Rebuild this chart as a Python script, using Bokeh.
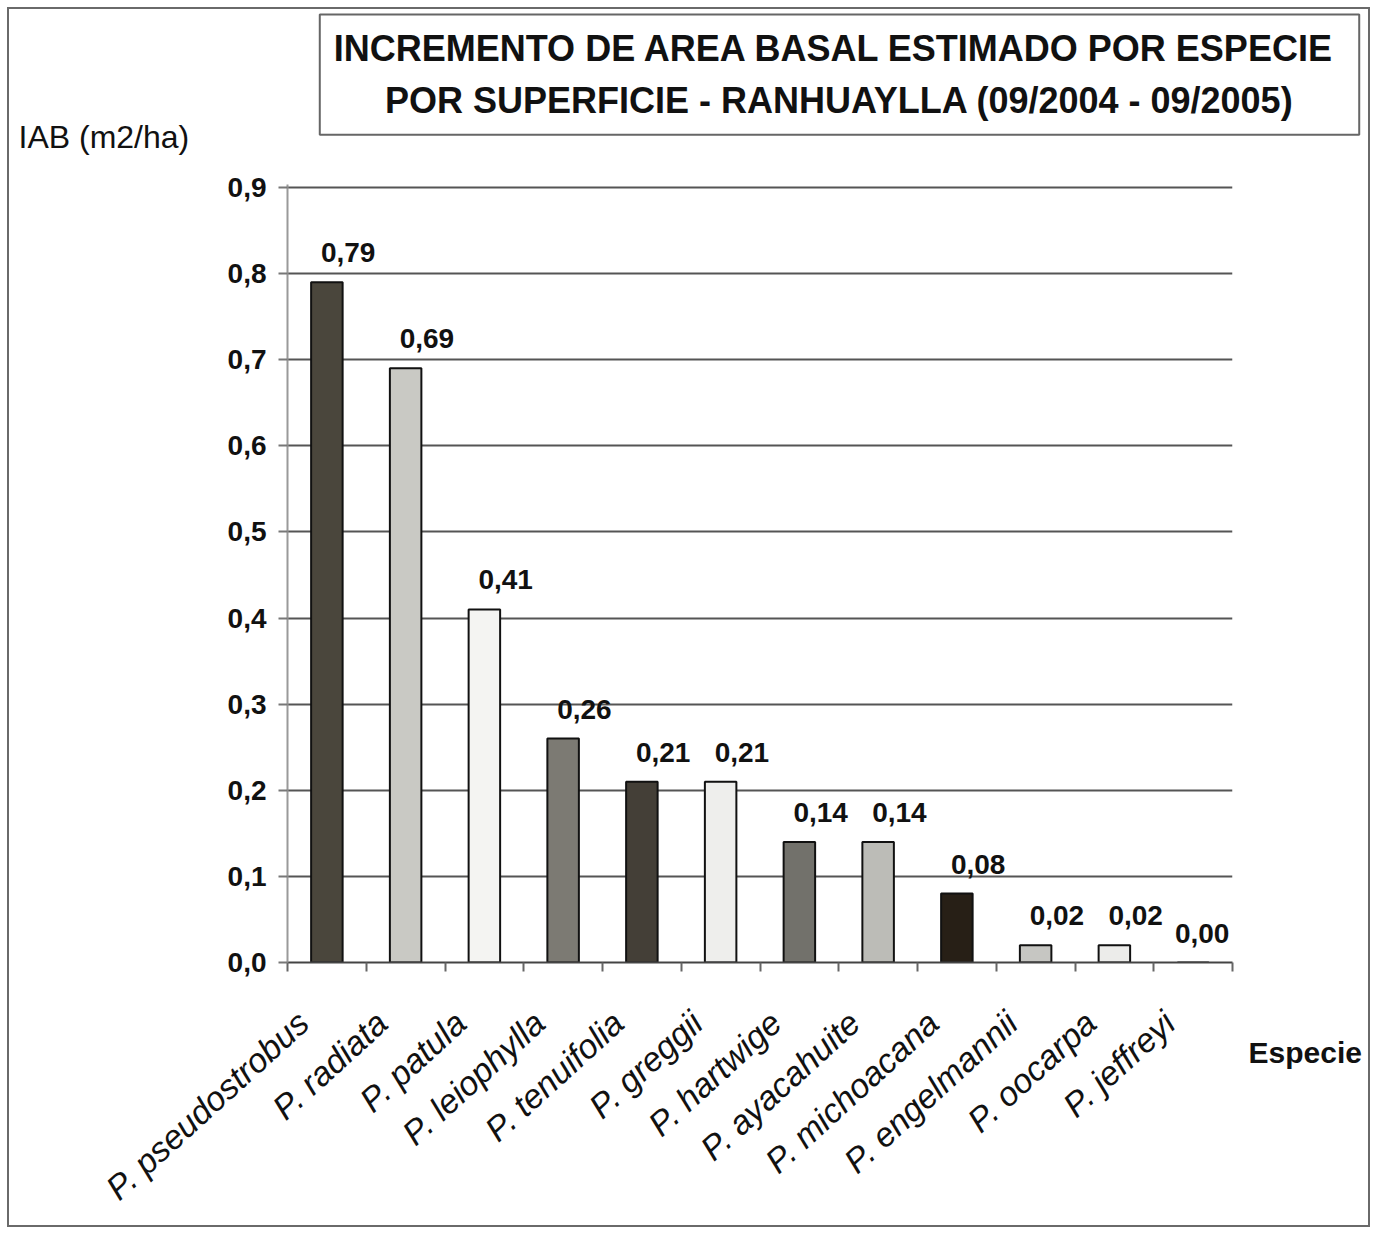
from bokeh.plotting import figure
from bokeh.models import (Range1d, FixedTicker, CustomJSTickFormatter, Label,
                          ColumnDataSource, LabelSet)
from bokeh.core.properties import value
from bokeh.embed import file_html
from bokeh.resources import INLINE

# Basal-area increment per species (m2/ha), Ranhuaylla 09/2004 - 09/2005
species = ["P. pseudostrobus", "P. radiata", "P. patula", "P. leiophylla",
           "P. tenuifolia", "P. greggii", "P. hartwige", "P. ayacahuite",
           "P. michoacana", "P. engelmannii", "P. oocarpa", "P. jeffreyi"]
iab = [0.79, 0.69, 0.41, 0.26, 0.21, 0.21, 0.14, 0.14, 0.08, 0.02, 0.02, 0.00]
fills = ["#4a463c", "#c9c9c4", "#f4f4f2", "#7c7a73", "#443f37", "#eeeeec",
         "#72716b", "#bcbcb7", "#271f16", "#c6c6c2", "#ececea", "#555555"]
y_ticks = [0, 0.1, 0.2, 0.3, 0.4, 0.5, 0.6, 0.7, 0.8, 0.9]

title_lines = ["INCREMENTO DE AREA BASAL ESTIMADO POR  ESPECIE",
               "POR SUPERFICIE - RANHUAYLLA (09/2004 - 09/2005)"]

FONT = "Liberation Sans"
W, H = 1377, 1234
LEFT, RIGHT, TOP, BOTTOM = 287, 145, 184, 272
n = len(species)
YMAX = 0.9035

p = figure(width=W, height=H, output_backend="svg", toolbar_location=None,
           x_range=Range1d(0, n), y_range=Range1d(0, YMAX),
           min_border_left=LEFT, min_border_right=RIGHT,
           min_border_top=TOP, min_border_bottom=BOTTOM)
p.outline_line_color = None
p.background_fill_color = "white"
p.border_fill_color = "white"
p.border_fill_alpha = 0
# thin frame around the whole chart
p.styles = {"outline": "2px solid #6a6a6a", "outline-offset": "-9px",
            "background-color": "white"}

# canvas pixel -> data helpers for text placed in the side panels
fw = W - LEFT - RIGHT
fh = H - TOP - BOTTOM
def px_x(px):
    return (px - LEFT) / fw * n
def px_y(py):
    return (H - BOTTOM - py) / fh * YMAX

centers = [i + 0.5 for i in range(n)]
labels = [f"{v:.2f}".replace(".", ",") for v in iab]

# value labels start just left of the bar centre; pull in any that would run
# past the right edge of the plot frame
VAL_SIZE = 28
val_width = 1.95 * VAL_SIZE
unit_px = fw / n
x_off = [min(-6, (n - c) * unit_px - 3 - val_width) for c in centers]

src = ColumnDataSource(dict(x=centers, top=iab, fill=fills, lab=labels, xoff=x_off))

p.vbar(x="x", top="top", bottom=0, width=0.4, source=src,
       fill_color="fill", line_color="#111111", line_width=2)

p.add_layout(LabelSet(x="x", y="top", text="lab", source=src, x_offset="xoff", y_offset=20,
                      text_align="left", text_baseline="bottom",
                      text_font=value(FONT), text_font_style="bold",
                      text_font_size=f"{VAL_SIZE}px", text_color="#111111"))

# axes: species names sit a little left of each bar, ticks mark category boundaries
xa = p.xaxis[0]
name_pos = [c - 0.3 for c in centers]
xa.ticker = FixedTicker(ticks=name_pos, minor_ticks=list(range(n + 1)))
xa.major_label_overrides = {c: s for c, s in zip(name_pos, species)}
xa.major_tick_out = 0
xa.major_tick_in = 0
xa.minor_tick_out = 9
xa.minor_tick_in = 0
xa.minor_tick_line_color = "#666666"
xa.minor_tick_line_width = 2
xa.axis_line_color = "#444444"
xa.axis_line_width = 2
xa.major_label_orientation = 0.74
xa.major_label_standoff = 46
xa.major_label_text_font = FONT
xa.major_label_text_font_style = "italic"
xa.major_label_text_font_size = "34px"
xa.major_label_text_color = "#111111"

ya = p.yaxis[0]
ya.ticker = FixedTicker(ticks=y_ticks)
ya.formatter = CustomJSTickFormatter(code="return tick.toFixed(1).replace('.', ',');")
ya.minor_tick_line_color = None
ya.major_tick_out = 9
ya.major_tick_in = 0
ya.major_tick_line_color = "#777777"
ya.major_tick_line_width = 2
ya.axis_line_color = "#9a9a9a"
ya.axis_line_width = 2
ya.major_label_standoff = 12
ya.major_label_text_font = FONT
ya.major_label_text_font_style = "bold"
ya.major_label_text_font_size = "28px"
ya.major_label_text_color = "#111111"

p.xgrid.grid_line_color = None
p.ygrid.ticker = FixedTicker(ticks=y_ticks[1:])
p.ygrid.grid_line_color = "#555555"
p.ygrid.grid_line_width = 2

# chart title in a framed box above the plot
p.add_layout(Label(x=px_x(839), y=px_y(74), text="\n".join(title_lines),
                   text_align="center", text_baseline="middle",
                   text_font=FONT, text_font_style="bold", text_font_size="36px",
                   text_color="#111111", text_line_height=1.25,
                   border_line_color="#666666", border_line_width=2,
                   background_fill_color="white", padding=14), "above")

# axis titles, placed in the side panels
p.add_layout(Label(x=px_x(18), y=px_y(136), text="IAB (m2/ha)",
                   text_align="left", text_baseline="middle",
                   text_font=FONT, text_font_size="32px", text_color="#111111"), "left")
p.add_layout(Label(x=px_x(1248), y=px_y(1052), text="Especie",
                   text_align="left", text_baseline="middle",
                   text_font=FONT, text_font_style="bold", text_font_size="30px",
                   text_color="#111111"), "right")

open("out.html", "w").write(file_html(p, INLINE))
